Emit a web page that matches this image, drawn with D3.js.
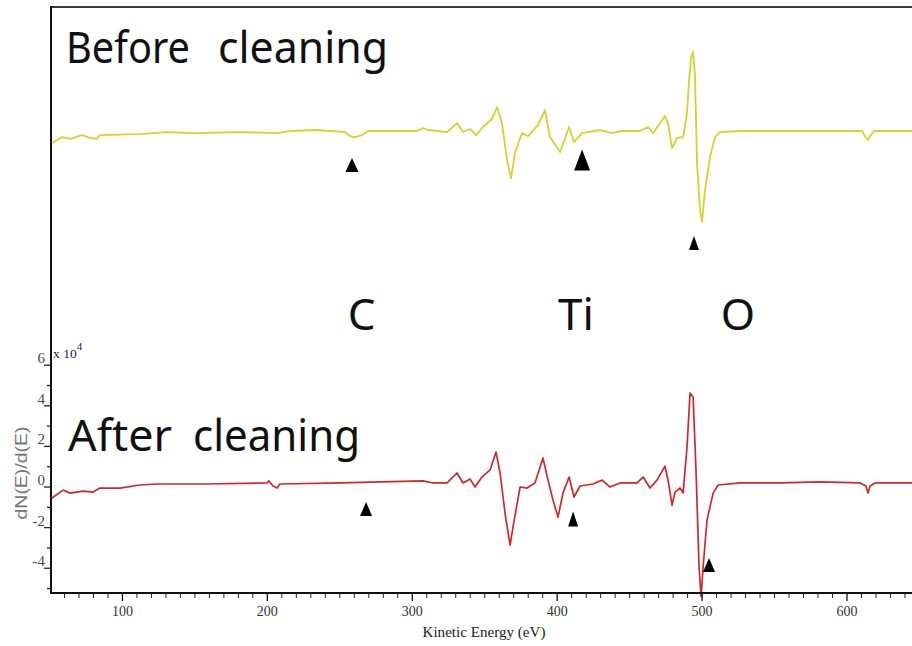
<!DOCTYPE html>
<html>
<head>
<meta charset="utf-8">
<script src="https://cdn.jsdelivr.net/npm/d3@7"></script>
<style>
  html, body { margin: 0; padding: 0; background: #fff; }
  svg { display: block; }
</style>
</head>
<body>
<svg id="chart" width="912" height="646"></svg>
<script>
// AES derivative spectra, dN(E)/dE in units of 10^4, versus kinetic energy (eV)
const energyBefore = [51.4,58.3,63.8,72.1,77.6,82.4,84.5,112.1,130.7,148.7,181.1,206.7,215.6,234.3,253.6,257.0,260.5,265.3,269.5,303.3,307.4,310.9,324.0,330.9,335.0,339.9,344.0,348.8,355.0,358.5,361.9,365.4,368.2,370.9,375.7,379.9,386.8,391.6,395.1,402.0,408.2,411.6,417.2,429.6,437.9,443.4,457.2,462.7,466.2,471.0,474.4,476.5,479.3,482.7,486.9,489.6,491.0,492.4,493.8,495.1,496.5,498.6,500.0,502.0,505.5,508.9,512.4,526.2,567.6,610.4,613.1,614.5,615.9,618.7,645];
const signalBefore = [-0.59,-0.30,-0.39,-0.20,-0.34,-0.39,-0.20,-0.15,-0.05,-0.10,-0.05,-0.10,0.00,0.05,-0.05,-0.25,-0.30,-0.20,0.00,0.00,0.15,0.05,-0.05,0.39,-0.05,0.10,-0.20,0.20,0.59,1.18,0.39,-1.43,-2.32,-1.08,-0.10,-0.25,0.30,1.03,-0.30,-1.03,0.20,-0.54,-0.10,0.05,-0.10,0.00,0.00,0.20,-0.10,0.39,0.74,0.39,-0.84,-0.34,-0.30,0.89,2.51,3.60,3.89,2.76,-1.58,-3.89,-4.48,-2.91,-1.28,-0.30,-0.05,0.00,0.00,0.00,-0.34,-0.44,-0.25,0.00,0.00];

const energyAfter = [51.4,59.0,63.8,72.8,79.7,84.5,98.3,112.1,123.8,158.4,199.8,201.1,203.9,206.7,208.7,250.1,307.4,314.3,324.0,330.9,335.0,339.9,343.3,348.1,353.7,357.8,360.6,364.0,367.5,369.5,374.4,379.2,384.7,390.2,393.7,397.1,400.6,404.0,408.2,411.6,415.8,424.7,431.0,436.5,443.4,455.1,459.3,464.1,468.9,474.4,476.5,479.3,481.3,484.8,486.9,489.6,491.7,493.8,495.8,497.9,499.3,500.7,503.4,507.6,511.0,526.2,553.8,581.4,609.0,613.1,614.5,615.9,619.4,645];
const signalAfter = [-0.54,-0.15,-0.30,-0.20,-0.25,-0.05,-0.05,0.10,0.15,0.15,0.20,0.30,0.05,-0.05,0.15,0.20,0.30,0.20,0.20,0.69,0.20,0.39,0.00,0.49,0.84,1.72,0.69,-1.28,-2.86,-1.97,0.00,-0.05,0.20,1.43,0.34,-0.64,-1.48,-0.30,0.49,-0.49,0.05,0.15,0.34,0.00,0.20,0.20,0.49,-0.05,0.34,1.03,0.34,-0.89,-0.25,-0.05,-0.30,1.97,4.63,4.43,0.84,-3.94,-5.40,-3.94,-1.63,-0.30,0.10,0.20,0.20,0.25,0.20,0.05,-0.30,0.05,0.20,0.20];

// Peak markers (triangles) placed at energy / signal coordinates
const markerEnergyBefore = [258.4, 417.2, 494.4];
const markerSignalBefore = [-1.67, -1.43, -5.52];
const markerEnergyAfter  = [268.1, 411.0, 504.8];
const markerSignalAfter  = [-1.08, -1.58, -3.84];

// Element labels and their energies
const elementNames  = ["C", "Ti", "O"];
const elementEnergy = [265, 413, 524.8];

// Axis ticks
const xMajorTicks = [100, 200, 300, 400, 500, 600];
const yMajorTicks = [-4, -2, 0, 2, 4, 6];
const yMinorTicks = [-5, -3, -1, 1, 3, 5];

const svg = d3.select("#chart");

const x = d3.scaleLinear().domain([50, 645]).range([50, 912.2]);
const yAfter  = d3.scaleLinear().domain([-5.2, 6]).range([592.6, 365.2]);
const yBefore = d3.scaleLinear().domain([-5.2, 6]).range([236.6, 9.2]);

// Frame: top edge of the upper panel and the shared left edge
svg.append("line").attr("x1", 50).attr("x2", 912).attr("y1", 7).attr("y2", 7)
  .attr("stroke", "#3a3a3a").attr("stroke-width", 2);
svg.append("line").attr("x1", 51).attr("x2", 51).attr("y1", 6).attr("y2", 594)
  .attr("stroke", "#111").attr("stroke-width", 2);

// Clip area for the lower trace
svg.append("clipPath").attr("id", "plotClip")
  .append("rect").attr("x", 51).attr("y", 0).attr("width", 870).attr("height", 597);

const lineBefore = d3.line().x(i => x(energyBefore[i])).y(i => yBefore(signalBefore[i]));
const lineAfter  = d3.line().x(i => x(energyAfter[i])).y(i => yAfter(signalAfter[i]));

svg.append("path")
  .attr("d", lineBefore(d3.range(energyBefore.length)))
  .attr("fill", "none").attr("stroke", "#d3d32c").attr("stroke-width", 1.8)
  .attr("stroke-linejoin", "round");

svg.append("path")
  .attr("clip-path", "url(#plotClip)")
  .attr("d", lineAfter(d3.range(energyAfter.length)))
  .attr("fill", "none").attr("stroke", "#cc2a2a").attr("stroke-width", 1.7)
  .attr("stroke-linejoin", "round");

// Triangular markers
function triangle(cx, cy, w, h) {
  return `M${cx},${cy - h / 2}L${cx + w / 2},${cy + h / 2}L${cx - w / 2},${cy + h / 2}Z`;
}
const markerSizeBefore = [[13, 14], [16, 21], [10, 14]];
const markerSizeAfter  = [[12, 14], [10, 15], [12, 14]];
markerEnergyBefore.forEach((e, i) => {
  svg.append("path").attr("d", triangle(x(e), yBefore(markerSignalBefore[i]), ...markerSizeBefore[i]))
    .attr("fill", "#000");
});
markerEnergyAfter.forEach((e, i) => {
  svg.append("path").attr("d", triangle(x(e), yAfter(markerSignalAfter[i]), ...markerSizeAfter[i]))
    .attr("fill", "#000");
});

// Panel titles
const titleFont = "'Noto Sans', 'Open Sans', sans-serif";
function title(words, xs, widths, baseline) {
  const t = svg.append("text").attr("y", baseline)
    .attr("font-family", titleFont).attr("font-size", 43).attr("fill", "#111");
  words.forEach((w, i) => {
    t.append("tspan").attr("x", xs[i]).attr("textLength", widths[i])
      .attr("lengthAdjust", "spacingAndGlyphs").text(w);
  });
}
title(["Before", "cleaning"], [66, 218], [124, 170], 63);
title(["After", "cleaning"], [68, 193], [104, 167], 451);

// Element labels
svg.selectAll("text.element").data(elementNames).join("text")
  .attr("class", "element")
  .attr("x", (d, i) => x(elementEnergy[i]))
  .attr("y", 330)
  .attr("text-anchor", "middle")
  .attr("font-family", titleFont).attr("font-size", 44).attr("fill", "#111")
  .text(d => d);

// X axis
const xAxisG = svg.append("g").attr("transform", "translate(0,593)");
xAxisG.append("line").attr("x1", 50).attr("x2", 912).attr("stroke", "#111").attr("stroke-width", 2);
const xMinor = d3.range(60, 646, 10).filter(v => v % 100 !== 0);
xAxisG.selectAll("line.minor").data(xMinor).join("line")
  .attr("class", "minor").attr("x1", d => x(d)).attr("x2", d => x(d))
  .attr("y1", 0).attr("y2", 5).attr("stroke", "#222").attr("stroke-width", 1);
xAxisG.selectAll("line.major").data(xMajorTicks).join("line")
  .attr("class", "major").attr("x1", d => x(d)).attr("x2", d => x(d))
  .attr("y1", 0).attr("y2", 8).attr("stroke", "#111").attr("stroke-width", 1.3);
xAxisG.selectAll("text").data(xMajorTicks).join("text")
  .attr("x", d => x(d)).attr("y", 23)
  .attr("text-anchor", "middle")
  .attr("font-family", "'Liberation Serif', 'Times New Roman', serif")
  .attr("font-size", 14).attr("fill", "#333")
  .text(d => d);
svg.append("text").attr("x", 484).attr("y", 637)
  .attr("text-anchor", "middle")
  .attr("font-family", "'Liberation Serif', 'Times New Roman', serif")
  .attr("font-size", 14).attr("fill", "#222")
  .attr("textLength", 123).attr("lengthAdjust", "spacingAndGlyphs")
  .text("Kinetic Energy (eV)");

// Y axis (lower panel)
const yAxisG = svg.append("g");
yAxisG.selectAll("line.minor").data(yMinorTicks).join("line")
  .attr("class", "minor").attr("x1", 47).attr("x2", 51)
  .attr("y1", d => yAfter(d)).attr("y2", d => yAfter(d))
  .attr("stroke", "#222").attr("stroke-width", 1.3);
yAxisG.selectAll("line.major").data(yMajorTicks).join("line")
  .attr("class", "major").attr("x1", 44).attr("x2", 51)
  .attr("y1", d => yAfter(d)).attr("y2", d => yAfter(d))
  .attr("stroke", "#222").attr("stroke-width", 1.3);
yAxisG.selectAll("text").data(yMajorTicks).join("text")
  .attr("x", 45).attr("y", d => yAfter(d) - 2)
  .attr("text-anchor", "end")
  .attr("font-family", "'Liberation Serif', 'Times New Roman', serif")
  .attr("font-size", 15).attr("fill", "#4a4a4a")
  .text(d => d);

// Exponent label
const expo = svg.append("text").attr("x", 53).attr("y", 358)
  .attr("font-family", "'Liberation Serif', 'Times New Roman', serif")
  .attr("font-size", 13.5).attr("fill", "#223");
expo.append("tspan").text("x 10");
expo.append("tspan").attr("dy", -8).attr("font-size", 11).text("4");

// Y axis title
svg.append("text")
  .attr("transform", "translate(27,473) rotate(-90)")
  .attr("text-anchor", "middle")
  .attr("font-family", "'Liberation Sans', Arial, sans-serif")
  .attr("font-size", 16).attr("fill", "#777")
  .attr("textLength", 93).attr("lengthAdjust", "spacingAndGlyphs")
  .text("dN(E)/d(E)");
</script>
</body>
</html>
